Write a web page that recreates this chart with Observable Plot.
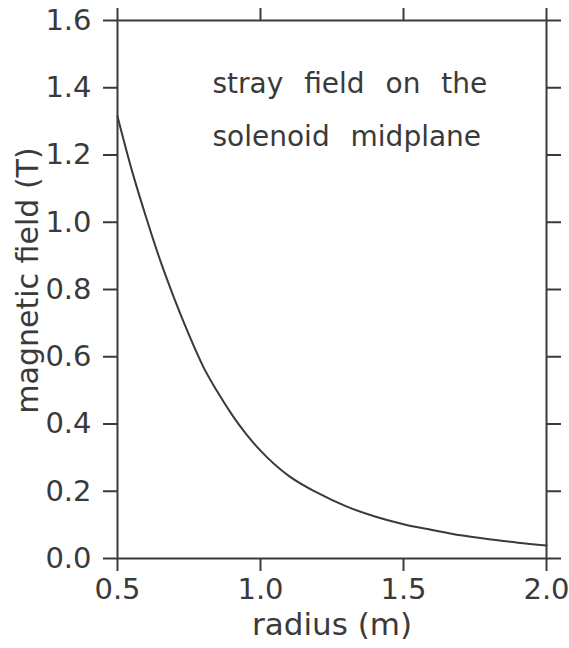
<!DOCTYPE html>
<html>
<head>
<meta charset="utf-8">
<script src="https://cdn.jsdelivr.net/npm/d3@7"></script>
<script src="https://cdn.jsdelivr.net/npm/@observablehq/plot@0.6"></script>
<style>
  html, body { margin: 0; padding: 0; background: #fff; }
  svg { display: block; }
</style>
</head>
<body>
<div id="chart"></div>
<script>
const radius = [0.5, 0.55, 0.6, 0.65, 0.7, 0.75, 0.8, 0.85, 0.9, 0.95, 1.0, 1.1, 1.2, 1.3, 1.4, 1.5, 1.6, 1.7, 1.8, 1.9, 2.0];
const field  = [1.315, 1.155, 1.015, 0.885, 0.77, 0.665, 0.57, 0.495, 0.428, 0.37, 0.321, 0.245, 0.195, 0.155, 0.125, 0.102, 0.085, 0.069, 0.057, 0.047, 0.039];
const xTicks = [0.5, 1.0, 1.5, 2.0];
const yTicks = [0, 0.2, 0.4, 0.6, 0.8, 1.0, 1.2, 1.4, 1.6];
const xLabel = ["radius (m)"];
const yLabel = ["magnetic field (T)"];
const annotation = ["stray field on the\nsolenoid midplane"];

const data = radius.map((r, i) => ({r, b: field[i]}));
const ink = "#3a3a3a";

const chart = Plot.plot({
  width: 569,
  height: 648,
  marginLeft: 117,
  marginRight: 23,
  marginTop: 20,
  marginBottom: 90,
  style: {fontFamily: "DejaVu Sans", color: ink, background: "#fff"},
  x: {domain: [0.5, 2.0]},
  y: {domain: [0, 1.6]},
  marks: [
    Plot.frame({stroke: ink, strokeWidth: 2}),
    Plot.axisX({anchor: "bottom", ticks: xTicks, tickSize: 13, tickPadding: 7, tickFormat: d3.format(".1f"),
      fontSize: 29, stroke: ink, strokeWidth: 2, label: null, fill: ink}),
    Plot.axisX({anchor: "top", ticks: xTicks, tickSize: 13, tickFormat: () => "", stroke: ink, strokeWidth: 2, label: null}),
    Plot.axisY({anchor: "left", ticks: yTicks, tickSize: 14, tickPadding: 12, tickFormat: d3.format(".1f"),
      fontSize: 29, stroke: ink, strokeWidth: 2, label: null, fill: ink}),
    Plot.axisY({anchor: "right", ticks: yTicks, tickSize: 14, tickFormat: () => "", stroke: ink, strokeWidth: 2, label: null}),
    Plot.text(xLabel, {frameAnchor: "bottom", lineAnchor: "bottom", dy: 76, fontSize: 31, fill: ink}),
    Plot.text(yLabel, {frameAnchor: "left", textAnchor: "middle", lineAnchor: "bottom", rotate: -90, dx: -80, dy: -9,
      fontSize: 30, fill: ink}),
    Plot.line(data, {x: "r", y: "b", stroke: ink, strokeWidth: 2, curve: "monotone-x"}),
    Plot.text(annotation, {frameAnchor: "top-left", textAnchor: "start", lineAnchor: "top", dx: 95, dy: 35,
      fontSize: 28, lineHeight: 1.9, fill: ink})
  ]
});
// widen word spacing of the annotation, like the original lettering
d3.select(chart).selectAll("text").each(function() {
  const t = this.textContent;
  if (t.includes("stray")) {
    d3.select(this).style("word-spacing", "12px");
  }
});
document.getElementById("chart").appendChild(chart);
</script>
</body>
</html>
